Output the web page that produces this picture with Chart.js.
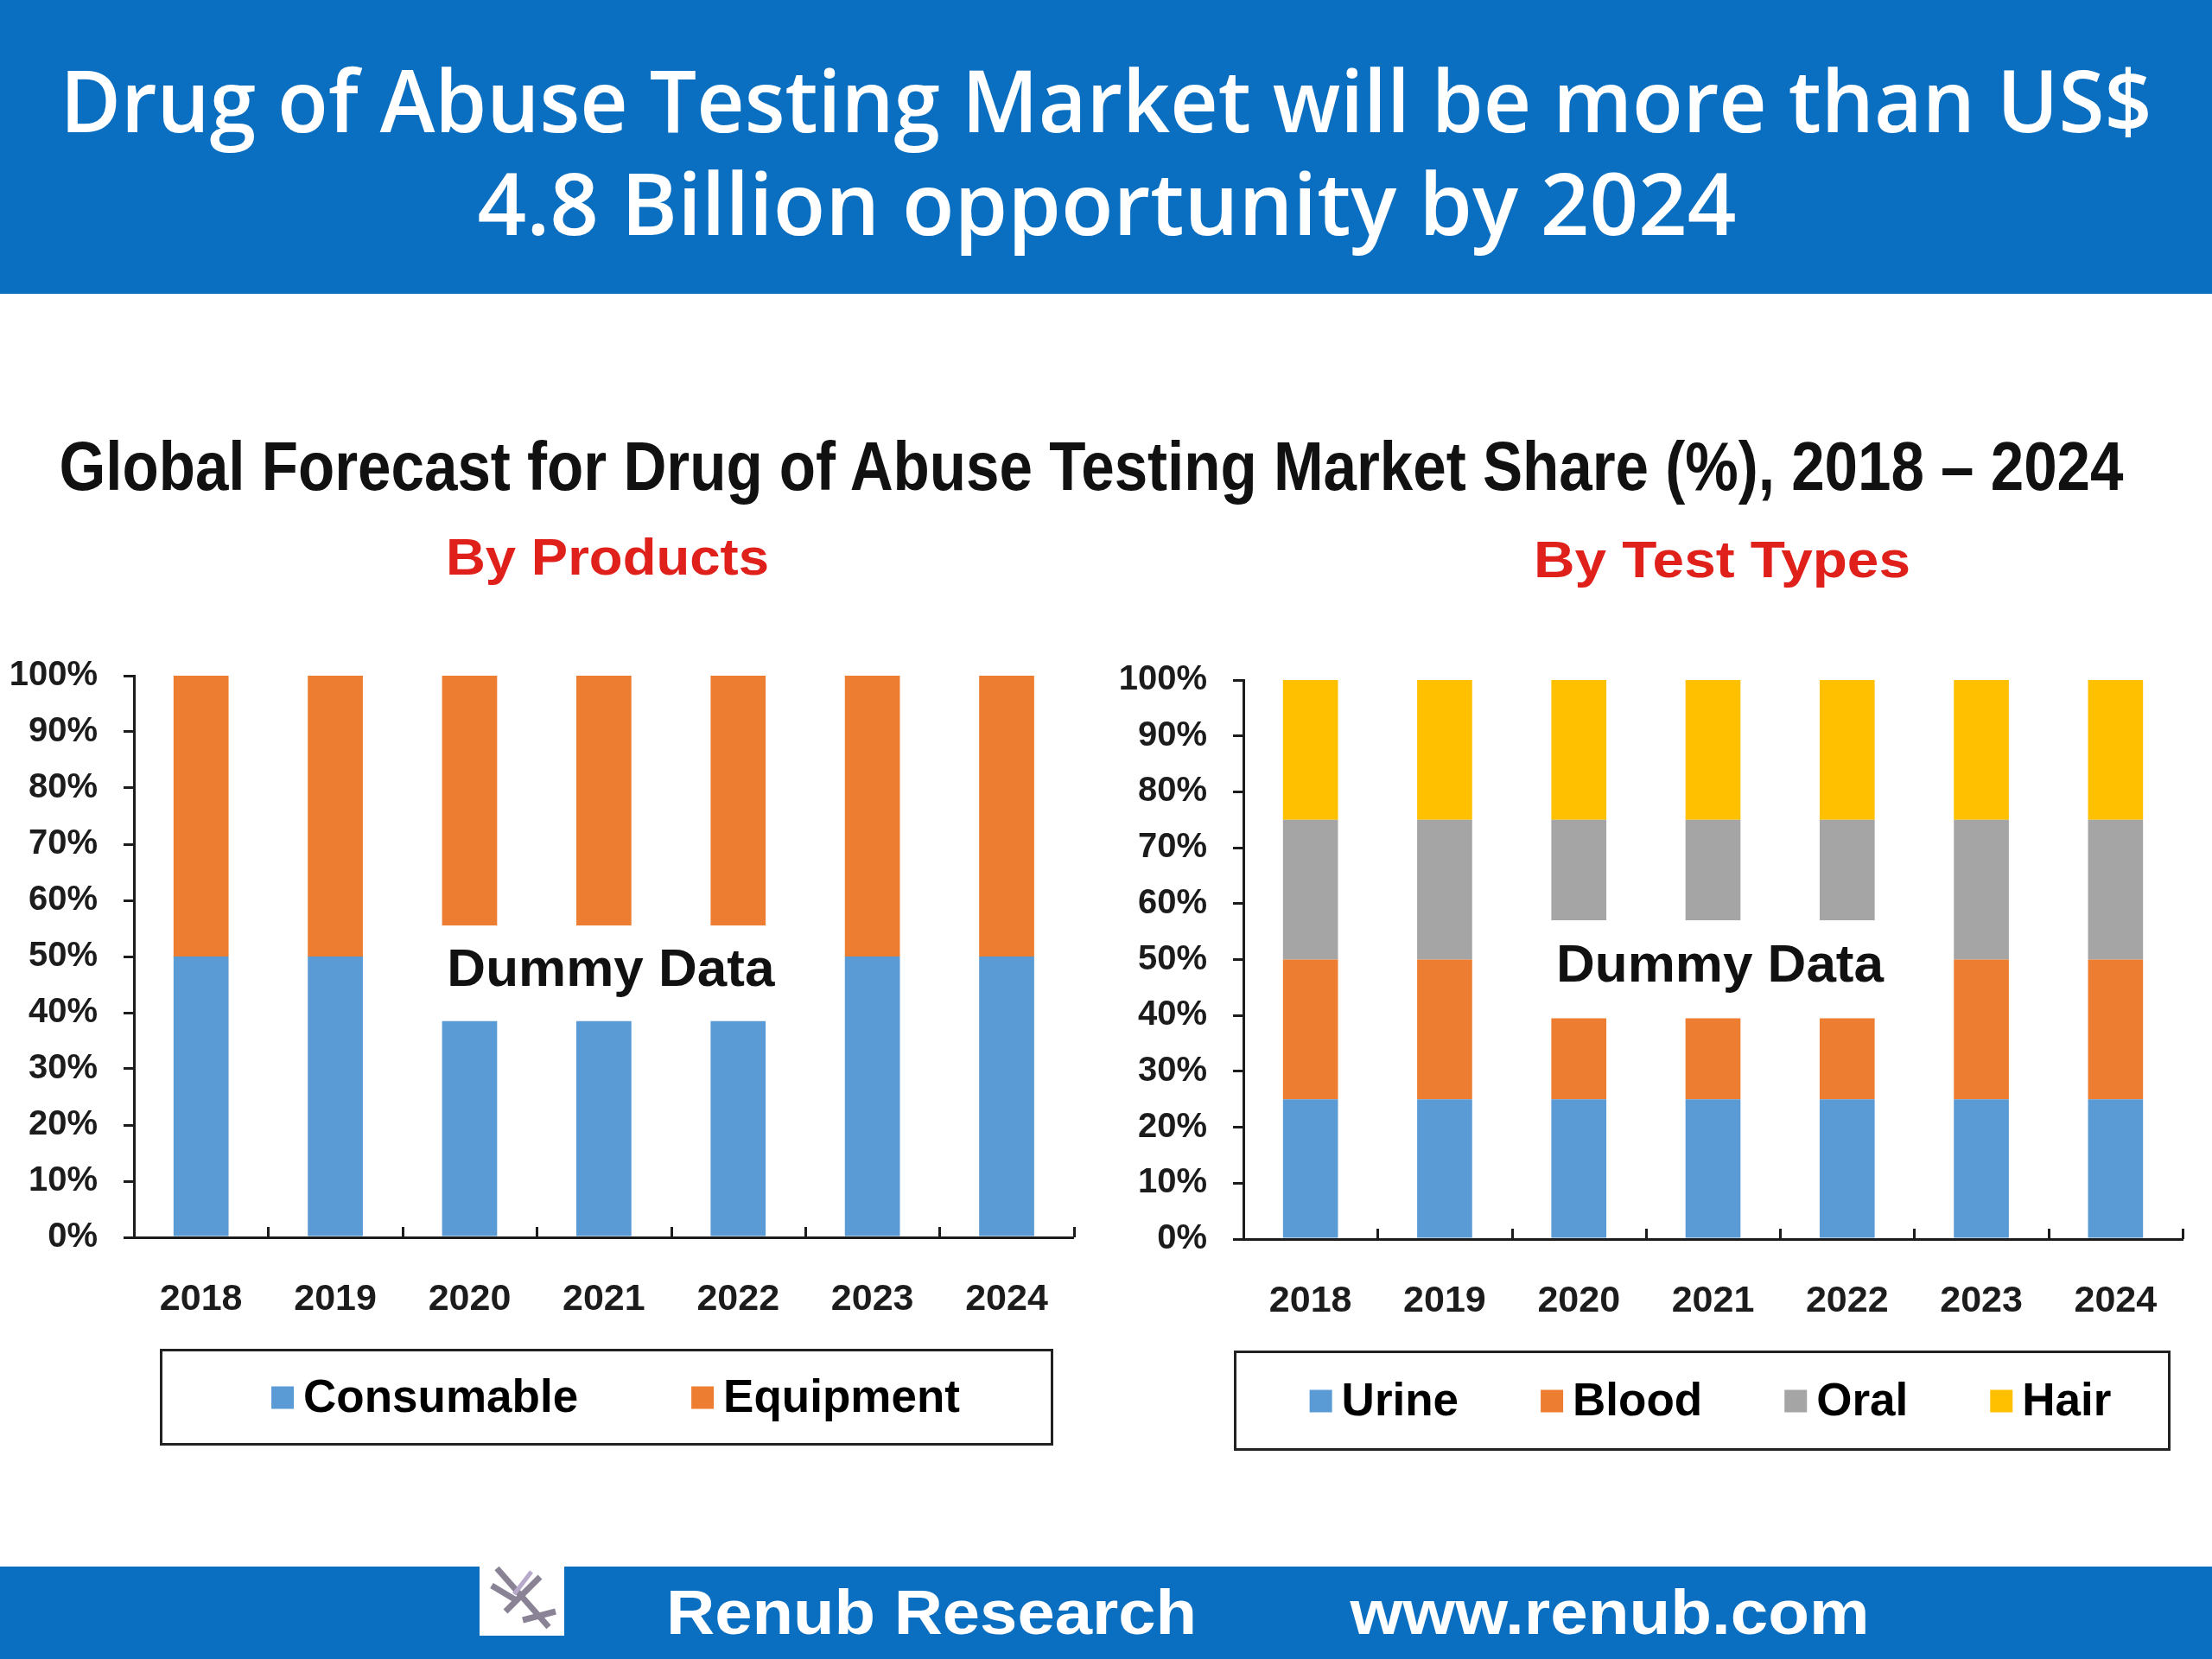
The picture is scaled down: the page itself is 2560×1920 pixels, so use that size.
<!DOCTYPE html>
<html>
<head>
    <meta charset="utf-8">
    <title>drug-of-abuse-testing</title>
    <script src="https://cdn.jsdelivr.net/npm/chart.js"></script>
    <style>
        body { margin: 0; width: 2560px; height: 1920px; position: relative; overflow: hidden; background: #fff; font-family: 'Liberation Sans', Arial, sans-serif; }
        .band { position: absolute; left: 0; width: 2560px; background: #0A6FC0; }
        .txt { position: absolute; white-space: nowrap; line-height: 1; font-weight: bold; transform-origin: center center; }
        canvas { position: absolute; }
        .logo { position: absolute; left: 555px; top: 1805px; width: 98px; height: 88px; background: #fff; }
    </style>
</head>

<body>
    <div class="band" style="top:0;height:340px"></div>
    <div class="band" style="top:1813px;height:107px"></div>

    <div class="txt" data-cx="1280" data-cy="114" data-w="2421" style="font-family:'Open Sans';font-weight:600;font-size:100px;color:#fff">Drug of Abuse Testing Market will be more than US$</div>
    <div class="txt" data-cx="1281" data-cy="233" data-w="1457" style="font-family:'Open Sans';font-weight:600;font-size:100px;color:#fff">4.8 Billion opportunity by 2024</div>

    <div class="txt" data-cx="1263" data-cy="540" data-w="2389" style="font-size:80px;color:#111">Global Forecast for Drug of Abuse Testing Market Share (%), 2018 – 2024</div>
    <div class="txt" data-cx="703" data-cy="645" data-w="374" style="font-size:60px;color:#E0201B">By Products</div>
    <div class="txt" data-cx="1993" data-cy="648" data-w="436" style="font-size:60px;color:#E0201B">By Test Types</div>

    <canvas id="products" width="1260" height="960" style="left:0;top:740px"></canvas>
    <canvas id="tests" width="1280" height="960" style="left:1280px;top:740px"></canvas>

    <div class="logo">
        <svg width="98" height="88" viewBox="0 0 98 88">
            <path d="M20 10 L80 78 M30 60 L70 20 M14 30 L44 48 M50 70 L88 60" stroke="#8a8396" stroke-width="7" fill="none"/>
            <path d="M60 14 L40 40" stroke="#b7a9c9" stroke-width="5"/>
        </svg>
    </div>
    <div class="txt" data-cx="1078" data-cy="1866" data-w="614" style="font-size:72px;color:#fff">Renub Research</div>
    <div class="txt" data-cx="1863" data-cy="1866" data-w="601" style="font-size:72px;color:#fff">www.renub.com</div>

    <script>
        const years = ['2018', '2019', '2020', '2021', '2022', '2023', '2024'];

        // By Products (%)
        const consumable = [50, 50, 38.5, 38.5, 38.5, 50, 50];
        const productsGap = [0, 0, 17, 17, 17, 0, 0];      // blank band behind "Dummy Data"
        const equipment = [50, 50, 44.5, 44.5, 44.5, 50, 50];

        // By Test Types (%)
        const urine = [25, 25, 25, 25, 25, 25, 25];
        const blood = [25, 25, 14.5, 14.5, 14.5, 25, 25];
        const testsGap = [0, 0, 17.5, 17.5, 17.5, 0, 0];
        const oral = [25, 25, 18, 18, 18, 25, 25];
        const hair = [25, 25, 25, 25, 25, 25, 25];

        const ink = '#1c1c1c';
        const family = "'Liberation Sans', Arial, sans-serif";

        // fit the html headings to their measured widths
        document.querySelectorAll('.txt').forEach(el => {
            const w = el.getBoundingClientRect().width;
            const s = +el.dataset.w / w;
            el.style.left = el.dataset.cx + 'px';
            el.style.top = el.dataset.cy + 'px';
            el.style.transform = `translate(-50%, -50%) scaleX(${s})`;
        });

        const decor = {
            id: 'decor',
            afterDatasetsDraw(chart, args, opts) {
                const ctx = chart.ctx;
                const x = chart.scales.x, y = chart.scales.y;
                const step = x.getPixelForValue(1) - x.getPixelForValue(0);
                ctx.save();

                // small upward ticks between categories
                ctx.strokeStyle = ink;
                ctx.lineWidth = 3;
                for (let i = 0; i < chart.data.labels.length; i++) {
                    const px = Math.round(x.getPixelForValue(i) + step / 2) + 0.5;
                    ctx.beginPath();
                    ctx.moveTo(px, y.bottom);
                    ctx.lineTo(px, y.bottom - 12);
                    ctx.stroke();
                }

                // "Dummy Data" centred in the blank band
                const gi = chart.data.datasets.findIndex(d => d.gap);
                const bars = chart.getDatasetMeta(gi).data.filter((b, i) => chart.data.datasets[gi].data[i] > 0);
                const first = bars[0], last = bars[bars.length - 1];
                const mid = bars[Math.floor(bars.length / 2)];
                ctx.fillStyle = '#111';
                ctx.font = `bold 62px ${family}`;
                ctx.textAlign = 'center';
                ctx.textBaseline = 'middle';
                ctx.fillText('Dummy Data', (first.x + last.x) / 2 + 8, (mid.y + mid.base) / 2 - 3);

                // boxed legend
                const [l, t, r, b] = opts.box;
                ctx.lineWidth = 3;
                ctx.strokeStyle = '#222';
                ctx.strokeRect(l + 0.5, t + 0.5, r - l, b - t);
                const items = chart.data.datasets.filter(d => !d.gap);
                ctx.font = `bold 53px ${family}`;
                ctx.textAlign = 'left';
                const sw = 26, sgap = 11;
                const widths = items.map(d => sw + sgap + ctx.measureText(d.label).width);
                const total = widths.reduce((a, c) => a + c, 0) + opts.gap * (items.length - 1);
                let cx = (l + r) / 2 - total / 2 + opts.shift;
                const cy = (t + b) / 2 + 1;
                items.forEach((d, i) => {
                    ctx.fillStyle = d.backgroundColor;
                    ctx.fillRect(cx, cy - sw / 2, sw, sw);
                    ctx.fillStyle = '#000';
                    ctx.fillText(d.label, cx + sw + sgap, cy + 2);
                    cx += widths[i] + opts.gap;
                });
                ctx.restore();
            }
        };

        function makeChart(id, datasets, frame) {
            return new Chart(document.getElementById(id), {
                type: 'bar',
                data: { labels: years, datasets: datasets },
                plugins: [decor],
                options: {
                    responsive: false,
                    animation: false,
                    layout: { padding: { top: frame.top, right: frame.right, bottom: 0, left: 0 } },
                    datasets: { bar: { barPercentage: 0.41, categoryPercentage: 1, borderWidth: 0 } },
                    plugins: {
                        legend: { display: false },
                        tooltip: { enabled: false },
                        decor: { box: frame.box, gap: frame.gap, shift: frame.shift }
                    },
                    scales: {
                        x: {
                            stacked: true,
                            grid: { display: true, drawOnChartArea: false, drawTicks: false },
                            border: { display: true, color: ink, width: 3 },
                            ticks: { color: ink, padding: 46, maxRotation: 0, autoSkip: false, font: { family: family, size: 43, weight: 'bold' } },
                            afterFit: s => { s.height = frame.xHeight; }
                        },
                        y: {
                            stacked: true,
                            min: 0,
                            max: 100,
                            grid: { drawOnChartArea: false, drawTicks: true, tickLength: 12, lineWidth: 3, color: ink },
                            border: { display: true, color: ink, width: 3 },
                            ticks: { stepSize: 10, padding: 30, color: ink, callback: v => v + '%', font: { family: family, size: 40, weight: 'bold' } },
                            afterFit: s => { s.width = frame.yWidth; s.paddingTop = 0; s.paddingBottom = 0; }
                        }
                    }
                }
            });
        }

        makeChart('products', [
            { label: 'Consumable', data: consumable, backgroundColor: '#5B9BD5' },
            { label: 'gap', data: productsGap, backgroundColor: '#ffffff', gap: true },
            { label: 'Equipment', data: equipment, backgroundColor: '#ED7D31' }
        ], { top: 42, right: 16, yWidth: 155, xHeight: 268, box: [186, 822, 1217, 931], gap: 131, shift: 11 });

        makeChart('tests', [
            { label: 'Urine', data: urine, backgroundColor: '#5B9BD5' },
            { label: 'Blood', data: blood, backgroundColor: '#ED7D31' },
            { label: 'gap', data: testsGap, backgroundColor: '#ffffff', gap: true },
            { label: 'Oral', data: oral, backgroundColor: '#A5A5A5' },
            { label: 'Hair', data: hair, backgroundColor: '#FFC000' }
        ], { top: 47, right: 34, yWidth: 159, xHeight: 266, box: [149, 824, 1230, 937], gap: 95, shift: 10 });
    </script>
</body>

</html>
